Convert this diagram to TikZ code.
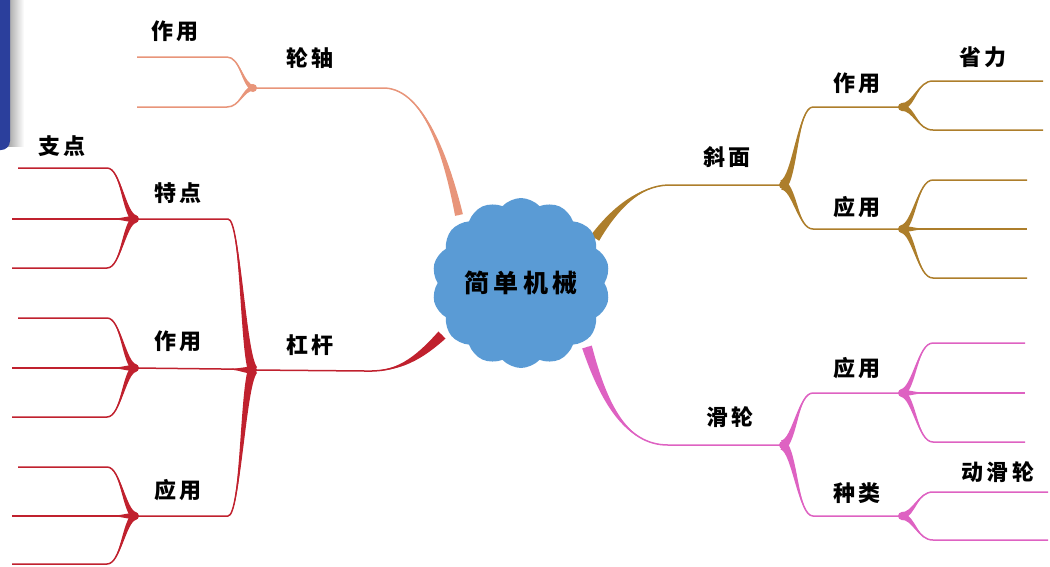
\documentclass[tikz,border=0pt]{standalone}
\usepackage{fontspec}
\newfontfamily\cjk[LetterSpace=18]{Noto Sans CJK SC}
\usetikzlibrary{calc,shapes.symbols}
\definecolor{salm}{HTML}{E8957A}
\definecolor{lever}{HTML}{C0212E}
\definecolor{slope}{HTML}{AD7E2B}
\definecolor{pulley}{HTML}{DE62C2}
\definecolor{cloudblue}{HTML}{5A9BD5}
\definecolor{barblue}{HTML}{2B3F9C}
\tikzset{
  thinline/.style={line width=1.5pt},
  lbl/.style={font=\cjk\bfseries\fontsize{22pt}{26pt}\selectfont, inner sep=0pt, text=black},
  junc/.style={circle, fill, inner sep=0pt, minimum size=8pt},
}
% tapered stroke: #1 start, #2 c1, #3 c2, #4 end, #5 half width, #6 colour
\newcommand\taper[6]{\fill[#6] ($(#1)!#5!90:(#2)$) .. controls ($(#2)!#5*0.6!90:(#3)$) and (#3) .. (#4) .. controls (#3) and ($(#2)!#5*0.6!-90:(#3)$) .. ($(#1)!#5!-90:(#2)$) -- cycle;}
% main branch: cloud point #1, controls #2 #3, end of curve #4, junction #5, colour #6, half width #7
\newcommand\mainbranch[7]{%
  \taper{#1}{#2}{#3}{#4}{#7}{#6}
  \draw[thinline,#6] (#1) .. controls (#2) and (#3) .. (#4) -- (#5);
}
% branch from junction #1 via bend end #2 to leaf end #3, colour #4, half width #5
\newcommand\branch[5]{%
  \path let \p1=(#1), \p2=(#2) in
    coordinate (bA) at (\x1+0.4*\x2-0.4*\x1, \y1+0.1*\y2-0.1*\y1)
    coordinate (bB) at (\x1+0.5*\x2-0.5*\x1, \y2);
  \taper{#1}{bA}{bB}{#2}{#5}{#4}
  \draw[thinline,#4] (#1) .. controls (bA) and (bB) .. (#2) -- (#3);
}
\begin{document}
\begin{tikzpicture}[x=1pt,y=-1pt]
\useasboundingbox (0,0) rectangle (1050,566);
% left bar
\shade[left color=black!35, right color=white] (8,0) rectangle (24,146);
\fill[barblue, rounded corners=9pt] (-20,-20) rectangle (10,150);

% ---------- coordinates ----------
% salmon (wheel and axle)
\coordinate (Sc) at (459,215);
\coordinate (Sh) at (385,88);
\coordinate (Sj) at (253,88);
\coordinate (Se1) at (227,57);  \coordinate (Sl1) at (137,57);
\coordinate (Se2) at (227,107); \coordinate (Sl2) at (137,107);
% red (lever)
\coordinate (Lc) at (442,335);
\coordinate (Lh) at (365,371);
\coordinate (Lj) at (253,370);
\coordinate (Lea) at (228,219); \coordinate (Lja) at (135,219);
\coordinate (Leb) at (222,369); \coordinate (Ljb) at (135,368);
\coordinate (Lec) at (228,516); \coordinate (Ljc) at (135,516);
% brown (inclined plane)
\coordinate (Bc) at (595,238);
\coordinate (Bh) at (668,185);
\coordinate (Bj) at (783,185);
\coordinate (Bea) at (813,107); \coordinate (Bja) at (902,107);
\coordinate (Beb) at (813,229); \coordinate (Bjb) at (902,229);
% pink (pulley)
\coordinate (Pc) at (587,347);
\coordinate (Ph) at (668,445);
\coordinate (Pj) at (783,445);
\coordinate (Pea) at (813,393); \coordinate (Pja) at (902,393);
\coordinate (Peb) at (813,516); \coordinate (Pjb) at (902,516);

% ---------- salmon ----------
\mainbranch{Sc}{447,160}{425,90}{Sh}{Sj}{salm}{4pt}
\branch{Sj}{Se1}{Sl1}{salm}{3pt}
\branch{Sj}{Se2}{Sl2}{salm}{3pt}
\node[junc,fill=salm] at (Sj) {};

% ---------- red ----------
\mainbranch{Lc}{415,362}{395,372}{Lh}{Lj}{lever}{5pt}
\branch{Lj}{Lea}{Lja}{lever}{5pt}
\branch{Lj}{Leb}{Ljb}{lever}{4pt}
\branch{Lj}{Lec}{Ljc}{lever}{5pt}
\node[junc,fill=lever] at (Lj) {};
\foreach \j/\ya/\yb/\yc in {Lja/168/219/268, Ljb/318/368/417, Ljc/467/516/564}{
  \coordinate (t1) at (107,\ya); \coordinate (t2) at (105,\yb); \coordinate (t3) at (107,\yc);
  \coordinate (u1) at (18,\ya); \coordinate (u2) at (12,\yb); \coordinate (u3) at (12,\yc);
  \branch{\j}{t1}{u1}{lever}{4pt}
  \branch{\j}{t2}{u2}{lever}{3.5pt}
  \branch{\j}{t3}{u3}{lever}{4pt}
  \node[junc,fill=lever] at (\j) {};
}

% ---------- brown ----------
\mainbranch{Bc}{615,208}{640,186}{Bh}{Bj}{slope}{5pt}
\branch{Bj}{Bea}{Bja}{slope}{5pt}
\branch{Bj}{Beb}{Bjb}{slope}{5pt}
\node[junc,fill=slope] at (Bj) {};
\coordinate (ba1) at (933,81);  \coordinate (bl1) at (1043,81);
\coordinate (ba2) at (933,130); \coordinate (bl2) at (1043,130);
\branch{Bja}{ba1}{bl1}{slope}{4pt}
\branch{Bja}{ba2}{bl2}{slope}{4pt}
\node[junc,fill=slope] at (Bja) {};
\coordinate (bb1) at (933,180); \coordinate (bm1) at (1027,180);
\coordinate (bb2) at (932,229); \coordinate (bm2) at (1027,229);
\coordinate (bb3) at (933,278); \coordinate (bm3) at (1027,278);
\branch{Bjb}{bb1}{bm1}{slope}{4pt}
\branch{Bjb}{bb2}{bm2}{slope}{3.5pt}
\branch{Bjb}{bb3}{bm3}{slope}{4pt}
\node[junc,fill=slope] at (Bjb) {};

% ---------- pink ----------
\mainbranch{Pc}{603,400}{625,445}{Ph}{Pj}{pulley}{5pt}
\branch{Pj}{Pea}{Pja}{pulley}{5pt}
\branch{Pj}{Peb}{Pjb}{pulley}{5pt}
\node[junc,fill=pulley] at (Pj) {};
\coordinate (pa1) at (933,343); \coordinate (pl1) at (1025,343);
\coordinate (pa2) at (932,393); \coordinate (pl2) at (1025,393);
\coordinate (pa3) at (933,442); \coordinate (pl3) at (1025,442);
\branch{Pja}{pa1}{pl1}{pulley}{4pt}
\branch{Pja}{pa2}{pl2}{pulley}{3.5pt}
\branch{Pja}{pa3}{pl3}{pulley}{4pt}
\node[junc,fill=pulley] at (Pja) {};
\coordinate (pb1) at (933,492); \coordinate (pm1) at (1048,492);
\coordinate (pb2) at (933,540); \coordinate (pm2) at (1048,540);
\branch{Pjb}{pb1}{pm1}{pulley}{4pt}
\branch{Pjb}{pb2}{pm2}{pulley}{4pt}
\node[junc,fill=pulley] at (Pjb) {};

% ---------- centre ----------
\node[cloud, cloud puffs=14, cloud puff arc=95, aspect=1.05, fill=cloudblue,
      minimum width=178pt, minimum height=170pt, inner sep=0pt] (root) at (521,283) {};
\node[lbl, font=\cjk\bfseries\fontsize{25pt}{28pt}\selectfont] (rootlbl) at (root) {简单机械};

% ---------- labels ----------
\node[lbl] (s1) at (175,31) {作用};
\node[lbl] (s0) at (310,58) {轮轴};
\node[lbl] (l0) at (310,345) {杠杆};
\node[lbl] (la) at (178,193) {特点};
\node[lbl] (lb) at (178,341) {作用};
\node[lbl] (lc) at (178,490) {应用};
\node[lbl] (lz) at (62,146) {支点};
\node[lbl] (b0) at (727,157) {斜面};
\node[lbl] (ba) at (857,83) {作用};
\node[lbl] (bs) at (983,57) {省力};
\node[lbl] (bb) at (857,207) {应用};
\node[lbl] (p0) at (730,417) {滑轮};
\node[lbl] (pa) at (857,368) {应用};
\node[lbl] (pb) at (857,493) {种类};
\node[lbl] (pd) at (998,472) {动滑轮};
\end{tikzpicture}
\end{document}
